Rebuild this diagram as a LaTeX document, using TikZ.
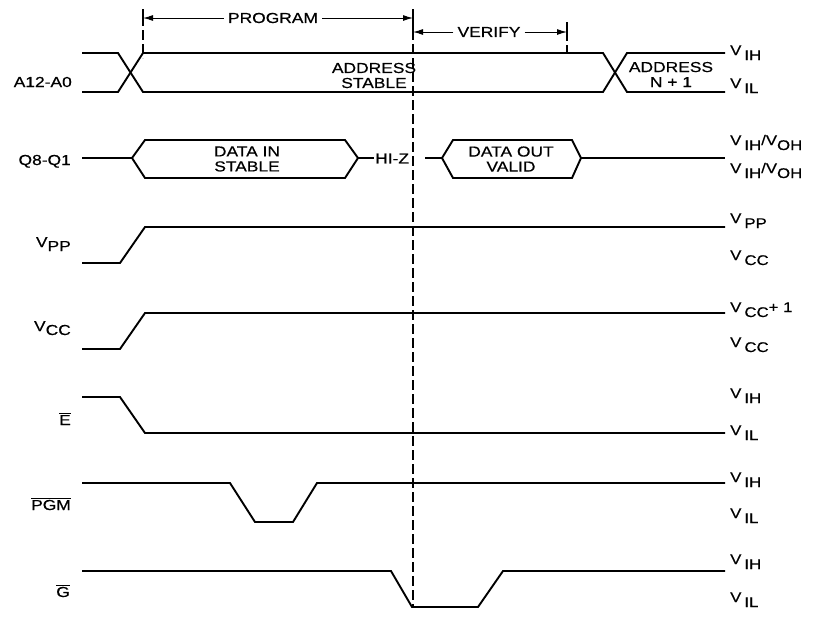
\documentclass[tikz,border=0pt]{standalone}
\usepackage{fontspec}
\setmainfont{Liberation Sans}[FakeStretch=1.2,FakeBold=0.5]
\usetikzlibrary{arrows.meta}
\newcommand{\rv}[1]{V\kern3pt\raisebox{-5pt}{#1}}
\begin{document}
\begin{tikzpicture}[x=1pt,y=-1pt,
 sig/.style={line width=1.9pt, line join=miter},
 guide/.style={line width=1.3pt, dash pattern=on 10pt off 4pt},
 barline/.style={line width=1.5pt},
 dimarrow/.style={line width=1pt, -{Latex[length=10pt,width=6pt]}, shorten <=4pt},
 txt/.style={inner sep=0pt, font=\fontsize{14.5}{15}\selectfont, align=center},
 lft/.style={inner sep=0pt, anchor=base east, font=\fontsize{14.5}{15}\selectfont},
 rgt/.style={inner sep=0pt, anchor=base west, font=\fontsize{14}{15}\selectfont}]
\useasboundingbox (0,0) rectangle (829,619);

% ---- timing markers ----
\coordinate (pl) at (143,18);
\coordinate (pr) at (413,18);
\coordinate (vl) at (413,32);
\coordinate (vr) at (567,32);
\node[txt] (prog) at (273,18) {PROGRAM};
\node[txt] (ver) at (489,32) {VERIFY};
\draw[dimarrow] (prog.west) -- (pl);
\draw[dimarrow] (prog.east) -- (pr);
\draw[dimarrow] (ver.west) -- (vl);
\draw[dimarrow] (ver.east) -- (vr);
\draw[barline] (143,9) -- (143,26);
\draw[barline] (413,9) -- (413,40);
\draw[barline] (567,22) -- (567,41);
\draw[guide] (143,30) -- (143,58);
\draw[guide] (567,45) -- (567,52);
\draw[guide] (413,44) -- (413,606);

% ---- A12-A0 ----
\draw[sig] (82,53) -- (118,53) -- (143,92) -- (603,92) -- (627,53) -- (725,53);
\draw[sig] (82,92) -- (118,92) -- (143,53) -- (603,53) -- (627,92) -- (725,92);
\node[txt] (as) at (374,75.5) {ADDRESS\\STABLE};
\node[txt] (an) at (671,74.5) {ADDRESS\\N + 1};
\node[lft] (la) at (72,87) {A12-A0};
\node[rgt] (ra1) at (730,55) {\rv{IH}};
\node[rgt] (ra2) at (730,88) {\rv{IL}};

% ---- Q8-Q1 ----
\draw[sig] (82,158) -- (132,158);
\draw[sig] (132,158) -- (145,140) -- (345,140) -- (358,158) -- (345,178) -- (145,178) -- cycle;
\draw[sig] (358,158) -- (374,158);
\draw[sig] (425,158) -- (442,158);
\draw[sig] (442,158) -- (453,140) -- (572,140) -- (581,158) -- (572,178) -- (453,178) -- cycle;
\draw[sig] (581,158) -- (725,158);
\node[txt] (di) at (247,159) {DATA IN\\STABLE};
\node[txt] (dout) at (511,159) {DATA OUT\\VALID};
\node[txt, anchor=west] (hz) at (375,158.5) {HI-Z};
\node[lft] (lq) at (71,165) {Q8-Q1};
\node[rgt] (rq1) at (730,145) {\rv{IH}/V\raisebox{-5pt}{OH}};
\node[rgt] (rq2) at (730,173) {\rv{IH}/V\raisebox{-5pt}{OH}};

% ---- VPP ----
\draw[sig] (82,263) -- (120,263) -- (145,227) -- (725,227);
\node[lft] (lpp) at (71,247) {V\raisebox{-4pt}{PP}};
\node[rgt] (rpp1) at (730,223) {\rv{PP}};
\node[rgt] (rpp2) at (730,260) {\rv{CC}};

% ---- VCC ----
\draw[sig] (82,349) -- (120,349) -- (145,313) -- (725,313);
\node[lft] (lcc) at (71,331) {V\raisebox{-4pt}{CC}};
\node[rgt] (rcc1) at (730,312) {\rv{CC}+ 1};
\node[rgt] (rcc2) at (730,347) {\rv{CC}};

% ---- E ----
\draw[sig] (82,397) -- (120,397) -- (145,433) -- (725,433);
\node[lft] (le) at (71,425) {$\overline{\hbox{E}}$};
\node[rgt] (re1) at (730,398) {\rv{IH}};
\node[rgt] (re2) at (730,435) {\rv{IL}};

% ---- PGM ----
\draw[sig] (82,483) -- (230,483) -- (255,522) -- (293,522) -- (317,483) -- (725,483);
\node[lft] (lpgm) at (71,510) {$\overline{\hbox{PGM}}$};
\node[rgt] (rp1) at (730,482) {\rv{IH}};
\node[rgt] (rp2) at (730,518) {\rv{IL}};

% ---- G ----
\draw[sig] (82,571) -- (391,571) -- (412,607) -- (478,607) -- (503,571) -- (725,571);
\node[lft] (lg) at (70,597) {$\overline{\hbox{G}}$};
\node[rgt] (rg1) at (730,564) {\rv{IH}};
\node[rgt] (rg2) at (730,602) {\rv{IL}};
\end{tikzpicture}
\end{document}
